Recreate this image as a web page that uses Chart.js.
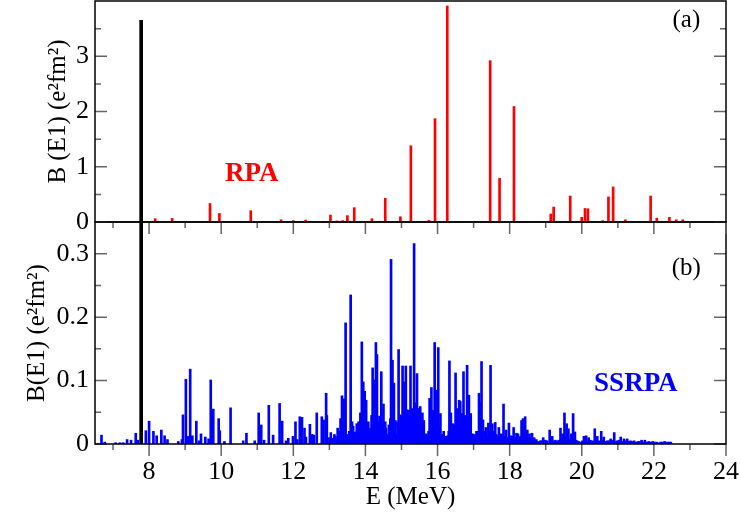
<!DOCTYPE html>
<html>
<head>
<meta charset="utf-8">
<script src="https://cdn.jsdelivr.net/npm/chart.js@4.4.1/dist/chart.umd.min.js"></script>
<style>
html, body { margin: 0; padding: 0; background: #fff; }
#wrap { position: relative; width: 741px; height: 517px; }
#wrap canvas { position: absolute; left: 0; top: 0; }
</style>
</head>
<body>
<div id="wrap">
  <canvas id="chartB" width="741" height="517"></canvas>
  <canvas id="chartA" width="741" height="240"></canvas>
</div>
<script>
'use strict';

// energies in MeV, strengths in e^2 fm^2
var rpaEnergy = [8.17, 8.64, 9.69, 9.95, 10.82, 11.66, 12.00, 12.34, 12.71, 13.03,
    13.21, 13.37, 13.50, 13.69, 13.97, 14.18, 14.55, 14.97, 15.26, 15.76,
    15.93, 16.27, 17.46, 17.72, 18.12, 19.14, 19.22, 19.68, 20.00, 20.09,
    20.17, 20.58, 20.74, 20.87, 21.21, 21.91, 22.08, 22.43, 22.62, 22.80];
var rpaStrength = [0.06, 0.065, 0.335, 0.155, 0.205, 0.04, 0.025, 0.035, 0.01, 0.125,
    0.02, 0.025, 0.115, 0.26, 0.01, 0.06, 0.43, 0.095, 1.38, 0.03,
    1.87, 3.91, 2.92, 0.79, 2.09, 0.145, 0.27, 0.47, 0.085, 0.245,
    0.24, 0.025, 0.455, 0.635, 0.04, 0.47, 0.07, 0.085, 0.04, 0.04];

var ssrpaEnergy = [6.68, 6.77, 7.07, 7.19, 7.28, 7.39, 7.50, 7.63, 7.69, 7.91,
    8.00, 8.12, 8.21, 8.34, 8.43, 8.51, 8.81, 8.91, 8.94, 9.02,
    9.07, 9.14, 9.20, 9.31, 9.39, 9.44, 9.56, 9.65, 9.71, 9.78,
    9.93, 9.96, 10.09, 10.26, 10.61, 10.70, 10.93, 11.04, 11.11, 11.19,
    11.32, 11.44, 11.62, 11.69, 11.80, 11.86, 11.99, 12.06, 12.11, 12.18,
    12.24, 12.31, 12.35, 12.46, 12.52, 12.57, 12.65, 12.79, 12.84, 12.91,
    12.93, 13.00, 13.04, 13.07, 13.11, 13.14, 13.17, 13.20, 13.23, 13.27,
    13.31, 13.35, 13.38, 13.41, 13.45, 13.48, 13.52, 13.55, 13.59, 13.63,
    13.66, 13.70, 13.73, 13.76, 13.79, 13.81, 13.84, 13.86, 13.90, 13.92,
    13.94, 13.96, 13.98, 14.00, 14.02, 14.05, 14.08, 14.11, 14.14, 14.17,
    14.20, 14.22, 14.24, 14.27, 14.29, 14.32, 14.35, 14.39, 14.42, 14.44,
    14.47, 14.50, 14.53, 14.55, 14.57, 14.59, 14.62, 14.65, 14.69, 14.71,
    14.75, 14.79, 14.83, 14.85, 14.89, 14.92, 14.95, 14.98, 15.00, 15.03,
    15.05, 15.08, 15.10, 15.12, 15.14, 15.16, 15.18, 15.21, 15.23, 15.25,
    15.28, 15.30, 15.32, 15.35, 15.37, 15.39, 15.41, 15.43, 15.45, 15.47,
    15.50, 15.52, 15.55, 15.58, 15.60, 15.62, 15.65, 15.69, 15.72, 15.75,
    15.78, 15.81, 15.83, 15.85, 15.87, 15.90, 15.92, 15.95, 15.97, 16.00,
    16.02, 16.05, 16.08, 16.11, 16.14, 16.17, 16.20, 16.22, 16.25, 16.28,
    16.31, 16.33, 16.35, 16.37, 16.40, 16.43, 16.46, 16.50, 16.52, 16.54,
    16.57, 16.60, 16.63, 16.65, 16.68, 16.70, 16.72, 16.75, 16.77, 16.80,
    16.82, 16.85, 16.87, 16.90, 16.92, 16.95, 16.98, 17.02, 17.05, 17.08,
    17.11, 17.15, 17.17, 17.19, 17.22, 17.24, 17.26, 17.29, 17.31, 17.34,
    17.37, 17.41, 17.44, 17.47, 17.50, 17.52, 17.56, 17.60, 17.63, 17.67,
    17.70, 17.73, 17.76, 17.80, 17.83, 17.87, 17.90, 17.94, 17.98, 18.01,
    18.04, 18.07, 18.11, 18.15, 18.19, 18.23, 18.27, 18.30, 18.33, 18.37,
    18.40, 18.43, 18.46, 18.49, 18.52, 18.55, 18.58, 18.62, 18.65, 18.68,
    18.71, 18.74, 18.79, 18.85, 18.88, 18.93, 18.96, 18.99, 19.04, 19.11,
    19.14, 19.18, 19.22, 19.27, 19.31, 19.36, 19.41, 19.44, 19.47, 19.52,
    19.55, 19.58, 19.63, 19.66, 19.71, 19.74, 19.76, 19.81, 19.84, 19.87,
    19.92, 19.97, 20.02, 20.06, 20.09, 20.12, 20.15, 20.19, 20.24, 20.30,
    20.33, 20.36, 20.40, 20.43, 20.48, 20.54, 20.58, 20.61, 20.66, 20.71,
    20.75, 20.80, 20.85, 20.90, 20.94, 20.98, 21.03, 21.08, 21.12, 21.17,
    21.21, 21.26, 21.30, 21.35, 21.40, 21.45, 21.50, 21.56, 21.60, 21.66,
    21.70, 21.75, 21.80, 21.86, 21.92, 21.97, 22.02, 22.08, 22.13, 22.19,
    22.24, 22.30, 22.34, 22.37, 22.42, 22.47];
var ssrpaStrength = [0.014, 0.003, 0.002, 0.002, 0.002, 0.007, 0.006, 0.017, 0.006, 0.021,
    0.036, 0.020, 0.013, 0.022, 0.013, 0.007, 0.004, 0.007, 0.046, 0.102,
    0.012, 0.118, 0.013, 0.036, 0.005, 0.016, 0.011, 0.008, 0.101, 0.055,
    0.040, 0.021, 0.004, 0.057, 0.005, 0.017, 0.005, 0.049, 0.030, 0.006,
    0.061, 0.014, 0.064, 0.036, 0.005, 0.009, 0.012, 0.035, 0.007, 0.043,
    0.042, 0.025, 0.011, 0.031, 0.015, 0.014, 0.049, 0.043, 0.038, 0.080,
    0.045, 0.010, 0.018, 0.006, 0.009, 0.015, 0.012, 0.008, 0.025, 0.020,
    0.040, 0.076, 0.030, 0.071, 0.191, 0.015, 0.012, 0.020, 0.235, 0.035,
    0.028, 0.019, 0.012, 0.032, 0.020, 0.035, 0.030, 0.049, 0.161, 0.040,
    0.098, 0.025, 0.083, 0.035, 0.069, 0.020, 0.035, 0.022, 0.025, 0.045,
    0.120, 0.035, 0.101, 0.025, 0.160, 0.141, 0.035, 0.044, 0.025, 0.114,
    0.030, 0.063, 0.020, 0.035, 0.025, 0.011, 0.015, 0.030, 0.040, 0.291,
    0.132, 0.096, 0.037, 0.015, 0.035, 0.149, 0.025, 0.046, 0.020, 0.123,
    0.035, 0.098, 0.025, 0.123, 0.035, 0.054, 0.030, 0.053, 0.025, 0.123,
    0.035, 0.056, 0.025, 0.316, 0.035, 0.065, 0.025, 0.111, 0.035, 0.056,
    0.025, 0.059, 0.030, 0.049, 0.020, 0.037, 0.012, 0.016, 0.012, 0.020,
    0.072, 0.030, 0.089, 0.025, 0.053, 0.035, 0.160, 0.025, 0.085, 0.035,
    0.152, 0.025, 0.048, 0.012, 0.015, 0.020, 0.008, 0.012, 0.010, 0.013,
    0.020, 0.131, 0.035, 0.049, 0.025, 0.032, 0.030, 0.112, 0.035, 0.056,
    0.030, 0.069, 0.067, 0.035, 0.048, 0.030, 0.114, 0.035, 0.045, 0.030,
    0.124, 0.035, 0.077, 0.025, 0.048, 0.012, 0.016, 0.010, 0.015, 0.020,
    0.020, 0.080, 0.030, 0.065, 0.130, 0.020, 0.038, 0.015, 0.020, 0.026,
    0.012, 0.033, 0.020, 0.124, 0.015, 0.032, 0.020, 0.034, 0.015, 0.012,
    0.026, 0.010, 0.016, 0.015, 0.063, 0.012, 0.022, 0.010, 0.033, 0.008,
    0.013, 0.012, 0.026, 0.010, 0.017, 0.016, 0.008, 0.012, 0.037, 0.040,
    0.015, 0.043, 0.010, 0.022, 0.008, 0.016, 0.010, 0.017, 0.006, 0.010,
    0.005, 0.007, 0.004, 0.005, 0.005, 0.010, 0.004, 0.006, 0.005, 0.022,
    0.004, 0.012, 0.005, 0.006, 0.004, 0.006, 0.025, 0.008, 0.016, 0.049,
    0.010, 0.032, 0.024, 0.008, 0.016, 0.010, 0.048, 0.019, 0.006, 0.005,
    0.004, 0.003, 0.005, 0.012, 0.006, 0.013, 0.004, 0.010, 0.006, 0.005,
    0.004, 0.024, 0.006, 0.012, 0.005, 0.020, 0.006, 0.011, 0.004, 0.005,
    0.005, 0.008, 0.006, 0.018, 0.004, 0.005, 0.006, 0.011, 0.004, 0.008,
    0.005, 0.008, 0.004, 0.005, 0.004, 0.005, 0.003, 0.004, 0.004, 0.006,
    0.003, 0.006, 0.003, 0.004, 0.003, 0.004, 0.003, 0.003, 0.002, 0.003,
    0.003, 0.004, 0.002, 0.003, 0.003, 0.003];

// black reference line (same energy in both panels)
var refEnergy = [7.78];
var refStrengthA = [3.65];
var refStrengthB = [0.35];

var xTicks = [8, 10, 12, 14, 16, 18, 20, 22, 24];
var yTicksA = [0, 1, 2, 3];
var yTicksB = [0, 0.1, 0.2, 0.3];

var serif = "'Liberation Serif', 'Times New Roman', serif";

function points(xs, ys) {
    return xs.map(function (x, i) { return { x: x, y: ys[i] }; });
}

// frame + inward y ticks + outward x ticks + panel labels
var panelPlugin = {
    id: 'panel',
    afterDatasetsDraw: function (chart, args, opts) {
        var c = chart.ctx, a = chart.chartArea;
        var xs = chart.scales.x, ys = chart.scales.y;
        c.save();
        c.strokeStyle = '#666';
        c.lineWidth = 1.5;
        c.beginPath();
        for (var v = Math.ceil(xs.min); v <= xs.max; v++) {
            var px = xs.getPixelForValue(v);
            var len = v % 2 === 0 ? 12 : 6;
            c.moveTo(px, a.bottom);
            c.lineTo(px, a.bottom + len);
        }
        for (var k = 0; k * opts.yStep <= opts.yTop + 1e-9; k++) {
            var py = ys.getPixelForValue(k * opts.yStep);
            var l = k % 2 === 0 ? 12 : 6;
            c.moveTo(a.left, py);
            c.lineTo(a.left + l, py);
            c.moveTo(a.right, py);
            c.lineTo(a.right - l, py);
        }
        c.stroke();
        c.strokeStyle = '#000';
        c.lineWidth = 1.5;
        c.strokeRect(a.left, a.top, a.right - a.left, a.bottom - a.top);
        c.textAlign = 'center';
        c.textBaseline = 'middle';
        opts.texts.forEach(function (t) {
            c.font = t.font;
            c.fillStyle = t.color;
            c.fillText(t.text, xs.getPixelForValue(t.x), ys.getPixelForValue(t.y));
        });
        c.restore();
    }
};

function yAxis(ticks, max, title, titlePad) {
    return {
        min: 0,
        max: max,
        afterBuildTicks: function (s) {
            s.ticks = ticks.map(function (v) { return { value: v }; });
        },
        afterFit: function (s) {
            s.width = 95;
            s.paddingTop = 0;
            s.paddingBottom = 0;
        },
        ticks: { padding: 6, color: '#000', font: { family: serif, size: 26 } },
        grid: { display: false, drawTicks: false },
        border: { display: false },
        title: {
            display: true, text: title, color: '#000',
            font: { family: serif, size: 25 },
            padding: { top: titlePad, bottom: 0 }
        }
    };
}

var ctx = document.getElementById('chartA').getContext('2d');
var chartA = new Chart(ctx, {
    type: 'bar',
    data: {
        datasets: [{
            data: points(rpaEnergy, rpaStrength),
            backgroundColor: '#ff0000',
            barThickness: 2
        }, {
            data: points(refEnergy, refStrengthA),
            backgroundColor: '#000000',
            barThickness: 3
        }]
    },
    options: {
        responsive: false,
        animation: false,
        datasets: { bar: { grouped: false } },
        layout: { padding: { left: 0, right: 15, top: 1, bottom: 18 } },
        scales: {
            x: { type: 'linear', min: 6.5, max: 24, offset: false, display: false },
            y: yAxis(yTicksA, 4, 'B (E1) (e\u00b2fm\u00b2)', 43)
        },
        plugins: {
            legend: { display: false },
            tooltip: { enabled: false },
            panel: {
                yStep: 0.5, yTop: 3.5,
                texts: [
                    { text: '(a)', x: 22.9, y: 3.64, color: '#000', font: '25px ' + serif },
                    { text: 'RPA', x: 10.85, y: 0.87, color: '#ff0000', font: 'bold 27px ' + serif }
                ]
            }
        }
    },
    plugins: [panelPlugin]
});

var ctx2 = document.getElementById('chartB').getContext('2d');
var chartB = new Chart(ctx2, {
    type: 'bar',
    data: {
        datasets: [{
            data: points(ssrpaEnergy, ssrpaStrength),
            backgroundColor: '#0000ff',
            barThickness: 2
        }, {
            data: points(refEnergy, refStrengthB),
            backgroundColor: '#000000',
            barThickness: 3
        }]
    },
    options: {
        responsive: false,
        animation: false,
        datasets: { bar: { grouped: false } },
        layout: { padding: { left: 0, right: 15, top: 222, bottom: 0 } },
        scales: {
            x: {
                type: 'linear', min: 6.5, max: 24, offset: false,
                afterBuildTicks: function (s) {
                    s.ticks = xTicks.map(function (v) { return { value: v }; });
                },
                afterFit: function (s) {
                    s.height = 73;
                    s.paddingLeft = 0;
                    s.paddingRight = 0;
                },
                ticks: { padding: 13, color: '#000', maxRotation: 0, font: { family: serif, size: 26 } },
                grid: { display: false, drawTicks: false },
                border: { display: false },
                title: {
                    display: true, text: 'E (MeV)', color: '#000',
                    font: { family: serif, size: 25 },
                    padding: { top: 0, bottom: 5 }
                }
            },
            y: yAxis(yTicksB, 0.35, 'B(E1) (e\u00b2fm\u00b2)', 22)
        },
        plugins: {
            legend: { display: false },
            tooltip: { enabled: false },
            panel: {
                yStep: 0.05, yTop: 0.3,
                texts: [
                    { text: '(b)', x: 22.9, y: 0.277, color: '#000', font: '25px ' + serif },
                    { text: 'SSRPA', x: 21.5, y: 0.094, color: '#0000ff', font: 'bold 27px ' + serif }
                ]
            }
        }
    },
    plugins: [panelPlugin]
});
</script>
</body>
</html>
